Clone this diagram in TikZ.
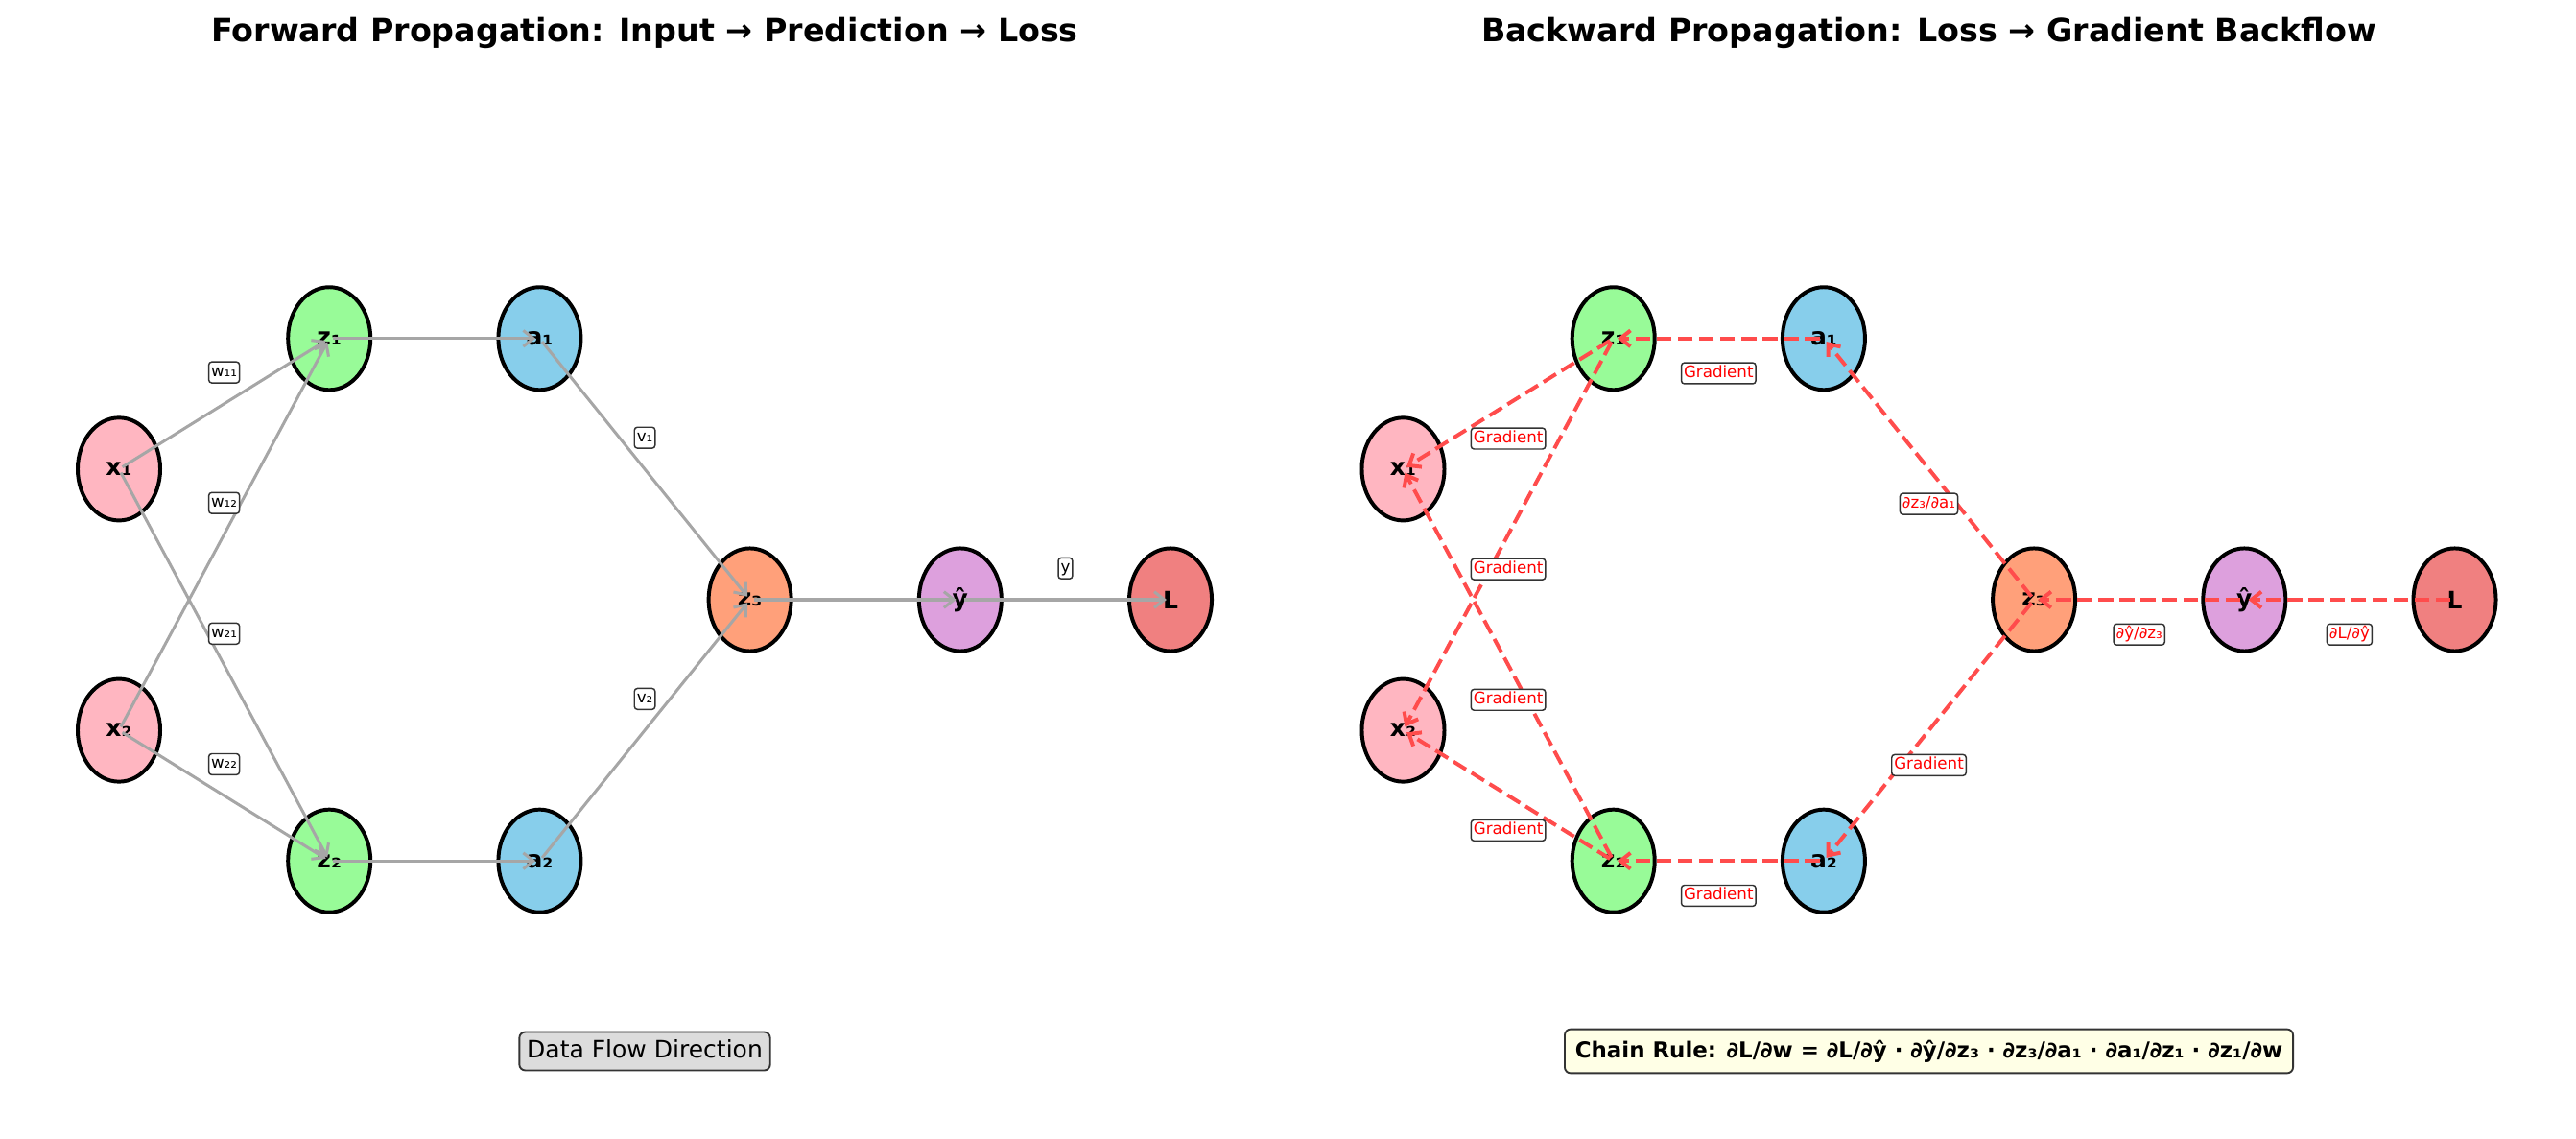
\documentclass[tikz,border=0pt]{standalone}
\usepackage{fontspec}
\setmainfont{DejaVu Sans}
\usetikzlibrary{arrows.meta,shapes.geometric}

\definecolor{inpink}{HTML}{FFB6C1}
\definecolor{hidgreen}{HTML}{98FB98}
\definecolor{actblue}{HTML}{87CEEB}
\definecolor{outsalmon}{HTML}{FFA07A}
\definecolor{predplum}{HTML}{DDA0DD}
\definecolor{losscoral}{HTML}{F08080}
\definecolor{boxgray}{HTML}{DCDCDC}
\definecolor{boxyellow}{HTML}{FFFFE6}

\begin{document}
\begin{tikzpicture}[
    x=105.22pt, y=65.33pt,
    neuron/.style={ellipse, draw, line width=1.9pt, minimum width=41.3pt, minimum height=51.4pt, inner sep=0pt, font=\fontsize{12}{14}\selectfont\bfseries},
    title/.style={anchor=base, font=\fontsize{16}{19}\selectfont\bfseries},
    fwd/.style={-{Straight Barb[length=5pt,width=8pt]}, line width=1.45pt, draw=gray!70, shorten >=2pt, shorten <=2pt},
    bwd/.style={-{Straight Barb[length=5pt,width=8pt]}, line width=1.9pt, draw=red!70, dash pattern=on 7.4pt off 3.2pt, shorten >=2pt, shorten <=2pt},
    tag/.style={fill=white, draw=black!80, solid, line width=0.7pt, rounded corners=1.5pt, inner sep=1.2pt, text height=6.2pt, text depth=1.9pt, font=\fontsize{8}{9}\selectfont},
    wtag/.style={tag, yshift=15.7pt},
    gtag/.style={tag, text=red, yshift=-17.4pt},
    note/.style={draw=black!80, line width=0.9pt, rounded corners=3pt, inner sep=3.8pt, text height=9pt, text depth=2.6pt}
]
\useasboundingbox (-0.5657,-4.122) rectangle (11.683,4.592);

% Titles
\node[title] (ftitle) at (2.5,4.27) {Forward Propagation: Input → Prediction → Loss};
\node[title] (btitle) at (8.606,4.27) {Backward Propagation: Loss → Gradient Backflow};

% Forward nodes
\node[neuron, fill=inpink] (fx1) at (0,1) {x₁};
\node[neuron, fill=inpink] (fx2) at (0,-1) {x₂};
\node[neuron, fill=hidgreen] (fz1) at (1,2) {z₁};
\node[neuron, fill=hidgreen] (fz2) at (1,-2) {z₂};
\node[neuron, fill=actblue] (fa1) at (2,2) {a₁};
\node[neuron, fill=actblue] (fa2) at (2,-2) {a₂};
\node[neuron, fill=outsalmon] (fz3) at (3,0) {z₃};
\node[neuron, fill=predplum] (fy) at (4,0) {ŷ};
\node[neuron, fill=losscoral] (fL) at (5,0) {L};

% Forward arrows
\draw[fwd] (fx1.center) -- node[wtag] {w₁₁} (fz1.center);
\draw[fwd] (fx2.center) -- node[wtag] {w₁₂} (fz1.center);
\draw[fwd] (fx1.center) -- node[wtag] {w₂₁} (fz2.center);
\draw[fwd] (fx2.center) -- node[wtag] {w₂₂} (fz2.center);
\draw[fwd] (fz1.center) -- (fa1.center);
\draw[fwd] (fz2.center) -- (fa2.center);
\draw[fwd] (fa1.center) -- node[wtag] {v₁} (fz3.center);
\draw[fwd] (fa2.center) -- node[wtag] {v₂} (fz3.center);
\draw[fwd] (fz3.center) -- (fy.center);
\draw[fwd] (fy.center) -- node[wtag] {y} (fL.center);

% Backward nodes
\node[neuron, fill=inpink] (bx1) at (6.106,1) {x₁};
\node[neuron, fill=inpink] (bx2) at (6.106,-1) {x₂};
\node[neuron, fill=hidgreen] (bz1) at (7.106,2) {z₁};
\node[neuron, fill=hidgreen] (bz2) at (7.106,-2) {z₂};
\node[neuron, fill=actblue] (ba1) at (8.106,2) {a₁};
\node[neuron, fill=actblue] (ba2) at (8.106,-2) {a₂};
\node[neuron, fill=outsalmon] (bz3) at (9.106,0) {z₃};
\node[neuron, fill=predplum] (by) at (10.106,0) {ŷ};
\node[neuron, fill=losscoral] (bL) at (11.106,0) {L};

% Backward arrows
\draw[bwd] (bL.center) -- node[gtag] {∂L/∂ŷ} (by.center);
\draw[bwd] (by.center) -- node[gtag] {∂ŷ/∂z₃} (bz3.center);
\draw[bwd] (bz3.center) -- node[gtag] {∂z₃/∂a₁} (ba1.center);
\draw[bwd] (bz3.center) -- node[gtag] {Gradient} (ba2.center);
\draw[bwd] (ba1.center) -- node[gtag] {Gradient} (bz1.center);
\draw[bwd] (ba2.center) -- node[gtag] {Gradient} (bz2.center);
\draw[bwd] (bz1.center) -- node[gtag] {Gradient} (bx1.center);
\draw[bwd] (bz1.center) -- node[gtag] {Gradient} (bx2.center);
\draw[bwd] (bz2.center) -- node[gtag] {Gradient} (bx1.center);
\draw[bwd] (bz2.center) -- node[gtag] {Gradient} (bx2.center);

% Notes
\node[note, fill=boxgray, font=\fontsize{12}{14}\selectfont] (flow) at (2.5,-3.457) {Data Flow Direction};
\node[note, fill=boxyellow, inner sep=5.2pt, font=\fontsize{11}{13}\selectfont\bfseries] (chain) at (8.606,-3.457) {Chain Rule: ∂L/∂w = ∂L/∂ŷ · ∂ŷ/∂z₃ · ∂z₃/∂a₁ · ∂a₁/∂z₁ · ∂z₁/∂w};

\end{tikzpicture}
\end{document}
